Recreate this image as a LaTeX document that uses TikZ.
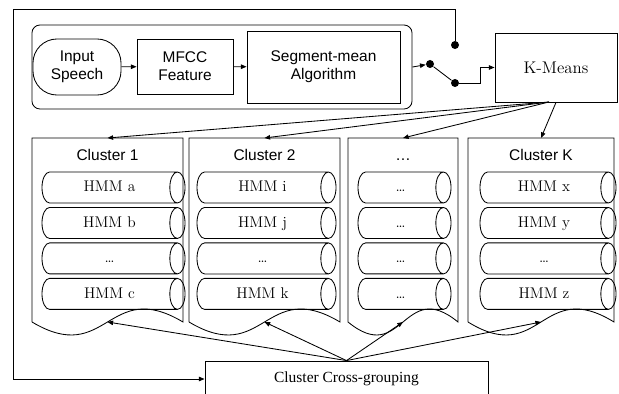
\documentclass[tikz,border=0pt]{standalone}
\usepackage{fontspec}
\setsansfont{Liberation Sans}
\newfontfamily\timesfont{Liberation Serif}
\usetikzlibrary{arrows.meta, positioning, shapes.geometric}

\begin{document}
\begin{tikzpicture}[
    x=0.025cm, y=-0.025cm,
    line width=0.6pt,
    sans/.style={font=\sffamily\fontsize{11}{13}\selectfont},
    block/.style={rectangle, draw, align=center, inner sep=2pt},
    hmm/.style={cylinder, draw, shape border rotate=0, aspect=1.2,
                minimum height=#1, minimum width=0.775cm, inner sep=0pt,
                text height=7.5pt, text depth=1.5pt,
                font=\fontsize{11}{13}\selectfont},
    dot/.style={circle, fill, inner sep=0pt, minimum size=0.2cm},
    arr/.style={-{Triangle[length=4pt, width=3.2pt]}},
    node distance=0.09cm
  ]
  \useasboundingbox (0,0) rectangle (619,394);

  % front end
  \node[draw, rounded corners=0.2cm, minimum width=9.5cm, minimum height=2.1cm] (front) at (222,67) {};
  \node[block, sans, rounded corners=0.6cm, minimum width=2.2cm, minimum height=1.4cm] (inp) at (77,67) {Input\\Speech};
  \node[block, sans, minimum width=2.4cm, minimum height=1.375cm] (mfcc) at (185,66.5) {MFCC\\Feature};
  \node[block, sans, minimum width=3.825cm, minimum height=1.8cm] (seg) at (323.5,67) {Segment-mean\\Algorithm};

  % switch
  \node[dot] (s0) at (455,45) {};
  \node[dot] (s1) at (430,64) {};
  \node[dot] (s2) at (455,83) {};

  \node[block, minimum width=3.05cm, minimum height=1.725cm, font=\fontsize{12}{14}\selectfont] (km) at (556,67.5) {K-Means};
  \coordinate (kmfan) at (549,102);

  \node[block, minimum width=7.075cm, minimum height=0.9cm, font=\timesfont\fontsize{11}{13}\selectfont] (cg) at (346.5,379) {Cluster Cross-grouping};
  \coordinate (corner) at (13,9);

  % clusters
  \foreach \n/\l/\r/\t in {c1/32/183/{Cluster 1}, c2/189/340/{Cluster 2}, c3/348/458/{\dots}, cK/468/614/{Cluster K}}{
    \pgfmathsetmacro{\m}{(\l+\r)/2}
    \coordinate (\n-top) at (\m,138);
    \coordinate (\n-bot) at (\m,322);
    \draw (\l,322) -- (\l,138) -- (\r,138) -- (\r,322)
      .. controls (\m,277) and (\m,367) .. (\l,322);
    \node[sans, anchor=base] (\n-title) at (\m,160.5) {\t};
  }

  \node[hmm=3.575cm] (h1a) at (109.5,187.5) {HMM a};
  \node[hmm=3.575cm, below=of h1a] (h1b) {HMM b};
  \node[hmm=3.575cm, below=of h1b] (h1c) {\dots};
  \node[hmm=3.575cm, below=of h1c] (h1d) {HMM c};

  \node[hmm=3.475cm] (h2a) at (262.5,187.5) {HMM i};
  \node[hmm=3.475cm, below=of h2a] (h2b) {HMM j};
  \node[hmm=3.475cm, below=of h2b] (h2c) {\dots};
  \node[hmm=3.475cm, below=of h2c] (h2d) {HMM k};

  \node[hmm=2.325cm] (h3a) at (400.5,187.5) {\dots};
  \node[hmm=2.325cm, below=of h3a] (h3b) {\dots};
  \node[hmm=2.325cm, below=of h3b] (h3c) {\dots};
  \node[hmm=2.325cm, below=of h3c] (h3d) {\dots};

  \node[hmm=3.4cm] (hKa) at (544,187.5) {HMM x};
  \node[hmm=3.4cm, below=of hKa] (hKb) {HMM y};
  \node[hmm=3.4cm, below=of hKb] (hKc) {\dots};
  \node[hmm=3.4cm, below=of hKc] (hKd) {HMM z};

  \draw[arr] (inp) -- (mfcc);
  \draw[arr] (mfcc) -- (seg);
  \draw[arr] (front.east) -- (s1);
  \draw (s1) -- (s2);
  \draw[arr] (s2) -- ++(25,0) |- (km);
  \draw[arr] (s0) |- (corner) |- (cg);

  \foreach \c in {c1, c2, c3}
    \draw[arr] (kmfan) -- (\c-top);
  \draw[arr] (km.south) -- (cK-top);
  \foreach \c in {c1, c2, c3, cK}
    \draw[arr] (cg.north) -- (\c-bot);

\end{tikzpicture}
\end{document}
